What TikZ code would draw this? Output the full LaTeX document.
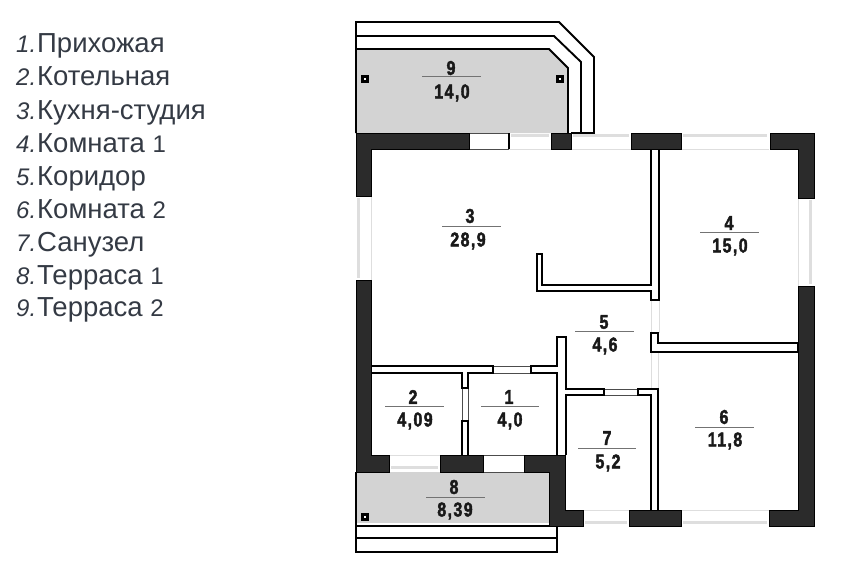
\documentclass[tikz,border=0pt]{standalone}
\usepackage{fontspec}
\setmainfont{Liberation Sans}
\newfontfamily\areafont[LetterSpace=7,FakeStretch=0.8,FakeBold=2]{Liberation Sans}
\definecolor{wallgray}{HTML}{2B2B2B}
\definecolor{terracegray}{HTML}{D3D3D3}
\definecolor{glassgray}{HTML}{DEDEDE}
\definecolor{legendgray}{HTML}{343A44}
\begin{document}
\begin{tikzpicture}[x=1pt,y=-1pt,
  wall/.style={draw=black,fill=wallgray,line width=1pt},
  partition/.style={draw=black,line width=1.9pt},
  rail/.style={draw=black,line width=1.9pt},
  glass/.style={draw=glassgray,line width=0.9pt},
  glassthick/.style={draw=glassgray,line width=3pt},
  doorline/.style={draw=black!70,line width=0.8pt},
  divider/.style={draw=black!55,line width=1pt},
  column/.style={draw=black,fill=white,line width=2.2pt,minimum size=5pt,inner sep=0pt},
  roomnum/.style={font=\areafont\bfseries\fontsize{20}{20}\selectfont,text=black!90,inner sep=0pt},
  legnum/.style={anchor=base west,inner sep=0pt,text=legendgray,font=\itshape\fontsize{24}{24}\selectfont},
  legtext/.style={anchor=base west,inner sep=0pt,text=legendgray,font=\fontsize{27.5}{27.5}\selectfont}]

\useasboundingbox (0,0) rectangle (845,583);

\node[legnum] (num1) at (16,53) {1.};
\node[legtext] (item1) at (37,53) {Прихожая};
\node[legnum] (num2) at (16,86) {2.};
\node[legtext] (item2) at (37,86) {Котельная};
\node[legnum] (num3) at (16,119) {3.};
\node[legtext] (item3) at (37,119) {Кухня-студия};
\node[legnum] (num4) at (16,152) {4.};
\node[legtext] (item4) at (37,152) {Комната {\fontsize{24}{24}\selectfont 1}};
\node[legnum] (num5) at (16,185) {5.};
\node[legtext] (item5) at (37,185) {Коридор};
\node[legnum] (num6) at (16,218) {6.};
\node[legtext] (item6) at (37,218) {Комната {\fontsize{24}{24}\selectfont 2}};
\node[legnum] (num7) at (16,251) {7.};
\node[legtext] (item7) at (37,251) {Санузел};
\node[legnum] (num8) at (16,284) {8.};
\node[legtext] (item8) at (37,284) {Терраса {\fontsize{24}{24}\selectfont 1}};
\node[legnum] (num9) at (16,316) {9.};
\node[legtext] (item9) at (37,316) {Терраса {\fontsize{24}{24}\selectfont 2}};

\fill [terracegray] (357,49) -- (549,49) -- (568,68) -- (568,133) -- (357,133) -- cycle;
\fill [terracegray] (357,472) -- (549,472) -- (549,523) -- (357,523) -- cycle;

\draw [rail] (356,133) -- (356,22) -- (559,22) -- (594,57) -- (594,133) -- (571,133);
\draw [rail] (356,36) -- (554,36) -- (581,62) -- (581,133);
\draw [rail] (356,49) -- (549,49) -- (568,68) -- (568,133);
\draw [rail] (356,472) -- (356,552) -- (557,552) -- (557,526);
\draw [rail] (356,538) -- (557,538);
\draw [draw=black,line width=1.2pt] (356,526) -- (549,526);

\draw [glass] (509,149) -- (551,149);
\draw [glass] (571,149) -- (631,149);
\draw [glass] (681,149) -- (769,149);
\draw [glass] (371,196) -- (371,280);
\draw [glass] (798,198) -- (798,286);
\draw [glass] (389,455) -- (440,455);
\draw [glass] (583,510) -- (629,510);
\draw [glass] (681,510) -- (769,510);
\draw [glassthick] (511,135.5) -- (549,135.5);
\draw [glassthick] (573,135.5) -- (629,135.5);
\draw [glassthick] (683,135.5) -- (767,135.5);
\draw [glassthick] (358.5,198) -- (358.5,278);
\draw [glassthick] (810,200) -- (810,284);
\draw [glassthick] (391,467) -- (438,467);
\draw [glassthick] (585,522) -- (627,522);
\draw [glassthick] (683,522) -- (767,522);

\draw [doorline] (469,133) -- (509,133);
\draw [doorline] (469,149) -- (509,149);
\draw [draw=black,line width=1.6pt] (509,133) -- (509,149);
\draw [doorline] (483,455) -- (524,455);
\draw [doorline] (483,472) -- (524,472);
\draw [doorline] (493,366) -- (531,366);
\draw [doorline] (493,373) -- (531,373);
\draw [doorline] (604,389) -- (638,389);
\draw [doorline] (604,395) -- (638,395);
\draw [doorline] (462,388) -- (462,421);
\draw [doorline] (468,388) -- (468,421);
\draw [glass] (651,300) -- (651,333);
\draw [glass] (659,300) -- (659,333);
\draw [glass] (651,352) -- (651,389);
\draw [glass] (658,352) -- (658,389);

\draw [partition] (659,149) -- (659,300) -- (651,300) -- (651,291) -- (537,291) -- (537,254) -- (542,254) -- (542,285) -- (651,285) -- (651,149);
\draw [partition] (651,333) -- (658,333) -- (658,343) -- (798,343) -- (798,352) -- (651,352) -- cycle;
\draw [partition] (658,510) -- (658,389) -- (638,389) -- (638,395) -- (651,395) -- (651,510);
\draw [partition] (557,455) -- (557,373) -- (531,373) -- (531,366) -- (557,366) -- (557,337) -- (566,337) -- (566,389) -- (604,389) -- (604,395) -- (566,395) -- (566,455);
\draw [partition] (371,366) -- (493,366) -- (493,373) -- (468,373) -- (468,388) -- (462,388) -- (462,373) -- (371,373) -- cycle;
\draw [partition] (462,455) -- (462,421) -- (468,421) -- (468,455);

\draw [wall] (356,133) -- (469,133) -- (469,149) -- (371,149) -- (371,196) -- (356,196) -- cycle;
\draw [wall] (551,133) -- (571,133) -- (571,149) -- (551,149) -- cycle;
\draw [wall] (631,133) -- (681,133) -- (681,149) -- (631,149) -- cycle;
\draw [wall] (770,133) -- (814,133) -- (814,198) -- (798,198) -- (798,149) -- (770,149) -- cycle;
\draw [wall] (356,280) -- (371,280) -- (371,455) -- (389,455) -- (389,472) -- (356,472) -- cycle;
\draw [wall] (798,286) -- (814,286) -- (814,526) -- (769,526) -- (769,510) -- (798,510) -- cycle;
\draw [wall] (629,510) -- (681,510) -- (681,526) -- (629,526) -- cycle;
\draw [wall] (440,455) -- (483,455) -- (483,472) -- (440,472) -- cycle;
\draw [wall] (524,455) -- (565,455) -- (565,510) -- (583,510) -- (583,526) -- (549,526) -- (549,472) -- (524,472) -- cycle;

\node[column] (col1) at (365,79) {};
\node[column] (col2) at (560,79) {};
\node[column] (col3) at (365,517) {};

\node[roomnum] (room1) at (509,397) {1};
\draw [divider] (481,406) -- (539,406);
\node[roomnum] (area1) at (510,421) {4,0};
\node[roomnum] (room2) at (413,397) {2};
\draw [divider] (385,406) -- (444,406);
\node[roomnum] (area2) at (415,421) {4,09};
\node[roomnum] (room3) at (470,216) {3};
\draw [divider] (442,226) -- (501,226);
\node[roomnum] (area3) at (468,241) {28,9};
\node[roomnum] (room4) at (729,223) {4};
\draw [divider] (700,232) -- (759,232);
\node[roomnum] (area4) at (730,247) {15,0};
\node[roomnum] (room5) at (604,322) {5};
\draw [divider] (575,331) -- (634,331);
\node[roomnum] (area5) at (605,346) {4,6};
\node[roomnum] (room6) at (724,417) {6};
\draw [divider] (695,427) -- (754,427);
\node[roomnum] (area6) at (725,441) {11,8};
\node[roomnum] (room7) at (607,438) {7};
\draw [divider] (578,448) -- (636,448);
\node[roomnum] (area7) at (608,463) {5,2};
\node[roomnum] (room8) at (454,487) {8};
\draw [divider] (426,497) -- (485,497);
\node[roomnum] (area8) at (455,511) {8,39};
\node[roomnum] (room9) at (451,68) {9};
\draw [divider] (422,77) -- (481,77);
\node[roomnum] (area9) at (452,93) {14,0};

\end{tikzpicture}
\end{document}
